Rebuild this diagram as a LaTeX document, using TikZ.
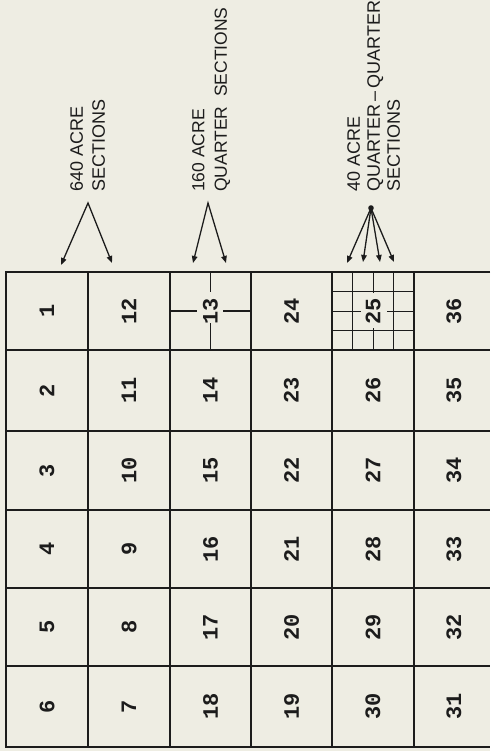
\documentclass[tikz,border=0pt]{standalone}
\usepackage{fontspec}
\setmainfont{Liberation Sans}
\newfontfamily\numfont{Liberation Mono}
\usetikzlibrary{arrows.meta}
\definecolor{paper}{RGB}{238,237,227}
\definecolor{ink}{RGB}{28,28,28}
\begin{document}
\begin{tikzpicture}[x=1pt,y=-1pt,
  num/.style={font=\numfont\bfseries\fontsize{22}{22}\selectfont, rotate=90, inner sep=0pt, text=ink},
  lbl/.style={font=\fontsize{18}{22}\selectfont, rotate=90, align=left, anchor=north west, inner sep=0pt, text=ink},
  gridline/.style={draw=ink, line width=1.8pt},
  border/.style={draw=ink, line width=2.2pt},
  subline/.style={draw=ink, line width=1.5pt},
  fineline/.style={draw=ink, line width=1pt},
  ptr/.style={draw=ink, line width=1.3pt, line join=miter},
  tip/.style={-{Triangle[length=7pt,width=5.5pt]}}
]
\fill[paper] (0,0) rectangle (490,751);
\useasboundingbox (0,0) rectangle (490,751);

% labels
\node[lbl] (lab1) at (70,192) {640 ACRE\\SECTIONS};
\node[lbl, font=\fontsize{17.5}{22.5}\selectfont] (lab2) at (192,192) {160 ACRE\\QUARTER\ \ SECTIONS};
\node[lbl, font=\fontsize{18}{20}\selectfont] (lab3) at (347,192) {40 ACRE\\QUARTER\,--\,QUARTER\\SECTIONS};

% connector points
\coordinate (a1) at (88,203);
\coordinate (t1a) at (61,265);
\coordinate (t1b) at (112,263);
\coordinate (a2) at (208,203);
\coordinate (t2a) at (193,263);
\coordinate (t2b) at (226,263);
\coordinate (a3) at (371,208);
\coordinate (t3a) at (347,263);
\coordinate (t3b) at (363,262);
\coordinate (t3c) at (380,262);
\coordinate (t3d) at (394,262);

\draw[ptr, {Triangle[length=7pt,width=5.5pt]}-{Triangle[length=7pt,width=5.5pt]}] (t1a) -- (a1) -- (t1b);
\draw[ptr, {Triangle[length=7pt,width=5.5pt]}-{Triangle[length=7pt,width=5.5pt]}] (t2a) -- (a2) -- (t2b);
\fill[ink] (a3) circle (2.8pt);
\draw[ptr, tip] (a3) -- (t3a);
\draw[ptr, tip] (a3) -- (t3b);
\draw[ptr, tip] (a3) -- (t3c);
\draw[ptr, tip] (a3) -- (t3d);

% grid
\foreach \xx in {88,170,251,332,414}
  \draw[gridline] (\xx,272) -- (\xx,747);
\foreach \yy in {350,431,510,588,666}
  \draw[gridline] (6,\yy) -- (490,\yy);
\draw[border] (490,272) -- (6,272) -- (6,747) -- (490,747);

% quarter sections in 13
\draw[subline] (210.5,272) -- (210.5,292);
\draw[subline] (210.5,323) -- (210.5,350);
\draw[subline] (170,311) -- (197,311);
\draw[subline] (223,311) -- (251,311);

% quarter-quarter sections in 25
\draw[fineline] (352.5,272) -- (352.5,350);
\draw[fineline] (393.5,272) -- (393.5,350);
\draw[fineline] (332,291.5) -- (414,291.5);
\draw[fineline] (332,330.5) -- (414,330.5);
\draw[fineline] (373,272) -- (373,293);
\draw[fineline] (373,328) -- (373,350);
\draw[fineline] (332,311) -- (361,311);
\draw[fineline] (387,311) -- (414,311);

% numbers
\node[num] (n1) at (47,311) {1};
\node[num] (n2) at (47,390.5) {2};
\node[num] (n3) at (47,470.5) {3};
\node[num] (n4) at (47,549) {4};
\node[num] (n5) at (47,627) {5};
\node[num] (n6) at (47,706.5) {6};
\node[num] (n12) at (129,311) {12};
\node[num] (n11) at (129,390.5) {11};
\node[num] (n10) at (129,470.5) {10};
\node[num] (n9) at (129,549) {9};
\node[num] (n8) at (129,627) {8};
\node[num] (n7) at (129,706.5) {7};
\node[num] (n13) at (210.5,311) {13};
\node[num] (n14) at (210.5,390.5) {14};
\node[num] (n15) at (210.5,470.5) {15};
\node[num] (n16) at (210.5,549) {16};
\node[num] (n17) at (210.5,627) {17};
\node[num] (n18) at (210.5,706.5) {18};
\node[num] (n24) at (291.5,311) {24};
\node[num] (n23) at (291.5,390.5) {23};
\node[num] (n22) at (291.5,470.5) {22};
\node[num] (n21) at (291.5,549) {21};
\node[num] (n20) at (291.5,627) {20};
\node[num] (n19) at (291.5,706.5) {19};
\node[num] (n25) at (373,311) {25};
\node[num] (n26) at (373,390.5) {26};
\node[num] (n27) at (373,470.5) {27};
\node[num] (n28) at (373,549) {28};
\node[num] (n29) at (373,627) {29};
\node[num] (n30) at (373,706.5) {30};
\node[num] (n36) at (454,311) {36};
\node[num] (n35) at (454,390.5) {35};
\node[num] (n34) at (454,470.5) {34};
\node[num] (n33) at (454,549) {33};
\node[num] (n32) at (454,627) {32};
\node[num] (n31) at (454,706.5) {31};
\end{tikzpicture}
\end{document}
